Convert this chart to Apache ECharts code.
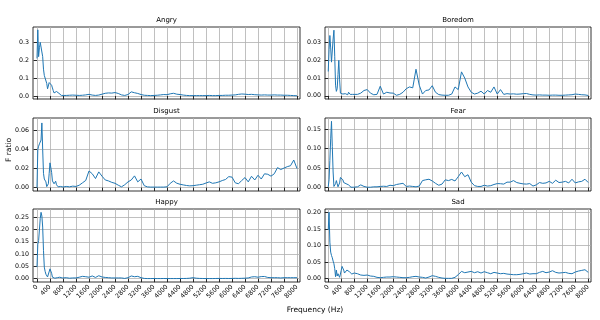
<!DOCTYPE html>
<html>
<head>
<meta charset="utf-8">
<script src="https://cdn.jsdelivr.net/npm/echarts@6/dist/echarts.min.js"></script>
<style>
  html, body { margin: 0; padding: 0; background: #fff; }
  #chart { width: 600px; height: 320px; }
</style>
</head>
<body>
<div id="chart"></div>
<script>
// sample grid: 25 Hz steps up to 800 Hz, then 100 Hz steps
const freqs = [];
for (let f = 0; f <= 800; f += 25) freqs.push(f);
for (let f = 900; f <= 8000; f += 100) freqs.push(f);

const xTicks = [0, 400, 800, 1200, 1600, 2000, 2400, 2800, 3200, 3600, 4000,
  4400, 4800, 5200, 5600, 6000, 6400, 6800, 7200, 7600, 8000];

const emotions = ['Angry', 'Boredom', 'Disgust', 'Fear', 'Happy', 'Sad'];

const angry = [
  0.21, 0.37, 0.22, 0.27, 0.30, 0.305, 0.29, 0.22, 0.15, 0.115, 0.11, 0.11, 0.07,
  0.04, 0.035, 0.075, 0.085, 0.08, 0.06, 0.045, 0.03, 0.017, 0.015, 0.02, 0.025,
  0.022, 0.018, 0.015, 0.008, 0.004, 0.003, 0.003, 0.003,
  0.003, 0.004, 0.005, 0.004, 0.003, 0.004, 0.006, 0.009, 0.005, 0.003, 0.005, 0.01,
  0.015, 0.017, 0.016, 0.019, 0.014, 0.006, 0.003, 0.008, 0.023, 0.018, 0.014, 0.008,
  0.004, 0.003, 0.002, 0.003, 0.004, 0.006, 0.008, 0.007, 0.012, 0.015, 0.01, 0.008,
  0.005, 0.003, 0.002, 0.002, 0.002, 0.002, 0.002, 0.002, 0.003, 0.002, 0.002, 0.003,
  0.003, 0.004, 0.004, 0.005, 0.006, 0.009, 0.011, 0.01, 0.008, 0.009, 0.007, 0.006,
  0.005, 0.006, 0.005, 0.005, 0.006, 0.005, 0.005, 0.004, 0.004, 0.003, 0.002, 0.001
];
const boredom = [
  0.0137, 0.026, 0.034, 0.027, 0.019, 0.02, 0.032, 0.037, 0.022, 0.006, 0.0025, 0.004,
  0.012, 0.020, 0.009, 0.0015, 0.0015, 0.0012, 0.001, 0.0018, 0.0008, 0.0012, 0.0017,
  0.001, 0.0006, 0.002, 0.0012, 0.0008, 0.0005, 0.0006, 0.0008, 0.001, 0.0009,
  0.0008, 0.0015, 0.003, 0.0035, 0.0015, 0.0006, 0.0008, 0.0054, 0.001, 0.002, 0.0016,
  0.0015, 0.0003, 0.0008, 0.002, 0.004, 0.005, 0.0045, 0.015, 0.006, 0.001, 0.003,
  0.0033, 0.0057, 0.002, 0.0007, 0.0004, 0.0003, 0.0003, 0.001, 0.005, 0.0035, 0.0135,
  0.01, 0.005, 0.002, 0.001, 0.0015, 0.0026, 0.001, 0.003, 0.002, 0.005, 0.001, 0.0035,
  0.0008, 0.0012, 0.001, 0.0011, 0.0009, 0.001, 0.0012, 0.0013, 0.0008, 0.0005, 0.0004,
  0.0005, 0.0004, 0.0004, 0.0003, 0.0004, 0.0004, 0.0003, 0.0003, 0.0004, 0.0005,
  0.0006, 0.001, 0.0008, 0.0006, 0.0005, 0.0002
];
const disgust = [
  0.0, 0.04, 0.0435, 0.046, 0.048, 0.05, 0.068, 0.04, 0.015, 0.009, 0.008, 0.006, 0.001,
  0.0008, 0.004, 0.015, 0.026, 0.0265, 0.016, 0.007, 0.005, 0.004, 0.006, 0.0067, 0.003,
  0.0015, 0.0008, 0.0006, 0.001, 0.0012, 0.0015, 0.001, 0.0006,
  0.0012, 0.0008, 0.0015, 0.0012, 0.0025, 0.005, 0.0075, 0.0175, 0.0145, 0.0095, 0.0165,
  0.012, 0.008, 0.007, 0.0055, 0.0045, 0.0025, 0.0008, 0.003, 0.006, 0.008, 0.0123,
  0.006, 0.009, 0.002, 0.0007, 0.0005, 0.0005, 0.0005, 0.0005, 0.0005, 0.0008, 0.0045,
  0.007, 0.0046, 0.0035, 0.0028, 0.0022, 0.0018, 0.002, 0.0025, 0.003, 0.0035, 0.0048,
  0.006, 0.0045, 0.005, 0.006, 0.0074, 0.0085, 0.0115, 0.011, 0.005, 0.004, 0.0075,
  0.0105, 0.006, 0.0119, 0.008, 0.013, 0.009, 0.0145, 0.014, 0.012, 0.0145, 0.021, 0.019,
  0.0205, 0.022, 0.023, 0.029, 0.02
];
const fear = [
  0.002, 0.02, 0.07, 0.125, 0.17, 0.105, 0.04, 0.003, 0.005, 0.01, 0.018, 0.01, 0.002,
  0.005, 0.012, 0.026, 0.029, 0.028, 0.02, 0.013, 0.008, 0.009, 0.01, 0.008, 0.008,
  0.007, 0.005, 0.003, 0.001, 0.001, 0.001, 0.001, 0.001,
  0.002, 0.007, 0.003, 0.001, 0.001, 0.002, 0.002, 0.003, 0.0035, 0.003, 0.006, 0.005,
  0.008, 0.0095, 0.011, 0.003, 0.004, 0.003, 0.002, 0.004, 0.018, 0.02, 0.0215, 0.017,
  0.011, 0.006, 0.009, 0.02, 0.018, 0.021, 0.017, 0.028, 0.04, 0.028, 0.033, 0.014,
  0.005, 0.003, 0.003, 0.006, 0.004, 0.005, 0.008, 0.0103, 0.01, 0.009, 0.014, 0.014,
  0.018, 0.013, 0.011, 0.0095, 0.009, 0.0103, 0.004, 0.007, 0.013, 0.011, 0.012, 0.016,
  0.011, 0.019, 0.013, 0.014, 0.016, 0.012, 0.0215, 0.012, 0.0147, 0.016, 0.0215, 0.013
];
const happy = [
  0.047, 0.14, 0.155, 0.15, 0.245, 0.27, 0.255, 0.21, 0.115, 0.047, 0.03, 0.018, 0.01,
  0.007, 0.01, 0.015, 0.04, 0.048, 0.022, 0.006, 0.003, 0.002, 0.002, 0.003, 0.003,
  0.004, 0.005, 0.007, 0.006, 0.003, 0.002, 0.003, 0.004,
  0.004, 0.002, 0.003, 0.003, 0.006, 0.0095, 0.008, 0.006, 0.011, 0.005, 0.012, 0.007,
  0.005, 0.004, 0.003, 0.003, 0.003, 0.003, 0.001, 0.004, 0.011, 0.008, 0.0095, 0.004,
  0.001, 0.0005, 0.0005, 0.0008, 0.0005, 0.0005, 0.0008, 0.0005, 0.0005, 0.0005, 0.0005,
  0.0008, 0.0008, 0.001, 0.002, 0.004, 0.002, 0.001, 0.0008, 0.0005, 0.0005, 0.0005,
  0.0008, 0.001, 0.0008, 0.001, 0.0008, 0.001, 0.0015, 0.001, 0.0015, 0.002, 0.003,
  0.007, 0.008, 0.006, 0.0085, 0.009, 0.005, 0.004, 0.004, 0.004, 0.003, 0.004, 0.004,
  0.004, 0.004, 0.004
];
const sad = [
  0.147, 0.2, 0.11, 0.08, 0.07, 0.063, 0.053, 0.045, 0.03, 0.006, 0.026, 0.008, 0.015,
  0.018, 0.004, 0.007, 0.025, 0.037, 0.033, 0.026, 0.017, 0.019, 0.022, 0.026, 0.025,
  0.024, 0.021, 0.018, 0.016, 0.014, 0.017, 0.02, 0.017,
  0.015, 0.011, 0.01, 0.011, 0.008, 0.007, 0.004, 0.003, 0.004, 0.005, 0.005, 0.006,
  0.005, 0.004, 0.003, 0.003, 0.004, 0.006, 0.007, 0.005, 0.004, 0.002, 0.005, 0.009,
  0.007, 0.004, 0.002, 0.001, 0.001, 0.001, 0.004, 0.012, 0.022, 0.018, 0.02, 0.022,
  0.018, 0.021, 0.017, 0.021, 0.018, 0.015, 0.019, 0.017, 0.015, 0.016, 0.014, 0.013,
  0.012, 0.012, 0.013, 0.015, 0.017, 0.014, 0.015, 0.015, 0.019, 0.022, 0.018, 0.02,
  0.024, 0.019, 0.017, 0.018, 0.019, 0.016, 0.015, 0.02, 0.023, 0.025, 0.027, 0.019
];
const seriesValues = [angry, boredom, disgust, fear, happy, sad];

// y tick labels per panel
const yTicks = [
  [0, 0.1, 0.2, 0.3],
  [0, 0.01, 0.02, 0.03],
  [0, 0.02, 0.04, 0.06],
  [0, 0.05, 0.10, 0.15],
  [0, 0.05, 0.10, 0.15, 0.20, 0.25],
  [0, 0.05, 0.10, 0.15, 0.20]
];
const yDecimals = [1, 2, 2, 2, 2, 2];
const yRanges = [
  [-0.017, 0.386], [-0.0018, 0.0388], [-0.0036, 0.0732],
  [-0.0087, 0.1785], [-0.0135, 0.2835], [-0.01, 0.21]
];

const lefts = [33, 325];
const widths = [267, 266];
const tops = [27, 118, 209];
const heights = [72, 73, 73];
const xRanges = [[-123, 8092], [-100, 8085]];

const font = 'DejaVu Sans';
const grids = [], xAxes = [], yAxes = [], series = [], titles = [];

emotions.forEach((name, i) => {
  const col = i % 2, row = Math.floor(i / 2);
  grids.push({
    left: lefts[col], top: tops[row], width: widths[col], height: heights[row],
    show: true, borderColor: '#000', borderWidth: 0.8, backgroundColor: 'transparent'
  });
  xAxes.push({
    type: 'value', gridIndex: i, min: xRanges[col][0], max: xRanges[col][1],
    axisLine: { show: false },
    axisTick: { show: true, inside: false, length: 3.5, customValues: xTicks,
      lineStyle: { color: '#000', width: 0.8 } },
    axisLabel: { show: row === 2, customValues: xTicks, rotate: 45, fontSize: 6.3,
      fontFamily: font, color: '#000', margin: 4, formatter: v => String(v) },
    splitLine: { show: true, lineStyle: { color: '#b0b0b0', width: 0.8 } }
  });
  yAxes.push({
    type: 'value', gridIndex: i, min: yRanges[i][0], max: yRanges[i][1],
    axisLine: { show: false },
    axisTick: { show: true, inside: false, length: 3.5, customValues: yTicks[i],
      lineStyle: { color: '#000', width: 0.8 } },
    axisLabel: { customValues: yTicks[i], fontSize: 6.3, fontFamily: font, color: '#000',
      margin: 4, formatter: v => v.toFixed(yDecimals[i]) },
    splitLine: { show: true, lineStyle: { color: '#b0b0b0', width: 0.8 } }
  });
  series.push({
    type: 'line', xAxisIndex: i, yAxisIndex: i, showSymbol: false, silent: true,
    lineStyle: { color: '#1f77b4', width: 1 },
    data: freqs.map((f, k) => [f, seriesValues[i][k]])
  });
  titles.push({
    text: name, left: lefts[col] + widths[col] / 2, top: tops[row] - 10, textAlign: 'center',
    textStyle: { fontSize: 7, fontWeight: 'normal', fontFamily: font, color: '#000' },
    padding: 0
  });
});

const chart = echarts.init(document.getElementById('chart'), null, { renderer: 'canvas' });
chart.setOption({
  animation: false,
  backgroundColor: '#fff',
  title: titles,
  grid: grids,
  xAxis: xAxes,
  yAxis: yAxes,
  series: series,
  graphic: [
    { type: 'text', x: 9, y: 150, rotation: Math.PI / 2,
      style: { text: 'F ratio', fontSize: 7.5, fontFamily: font, fill: '#000',
        textAlign: 'center', textVerticalAlign: 'middle' } },
    { type: 'text', x: 315, y: 310,
      style: { text: 'Frequency (Hz)', fontSize: 7.5, fontFamily: font, fill: '#000',
        textAlign: 'center', textVerticalAlign: 'middle' } }
  ]
});
</script>
</body>
</html>
